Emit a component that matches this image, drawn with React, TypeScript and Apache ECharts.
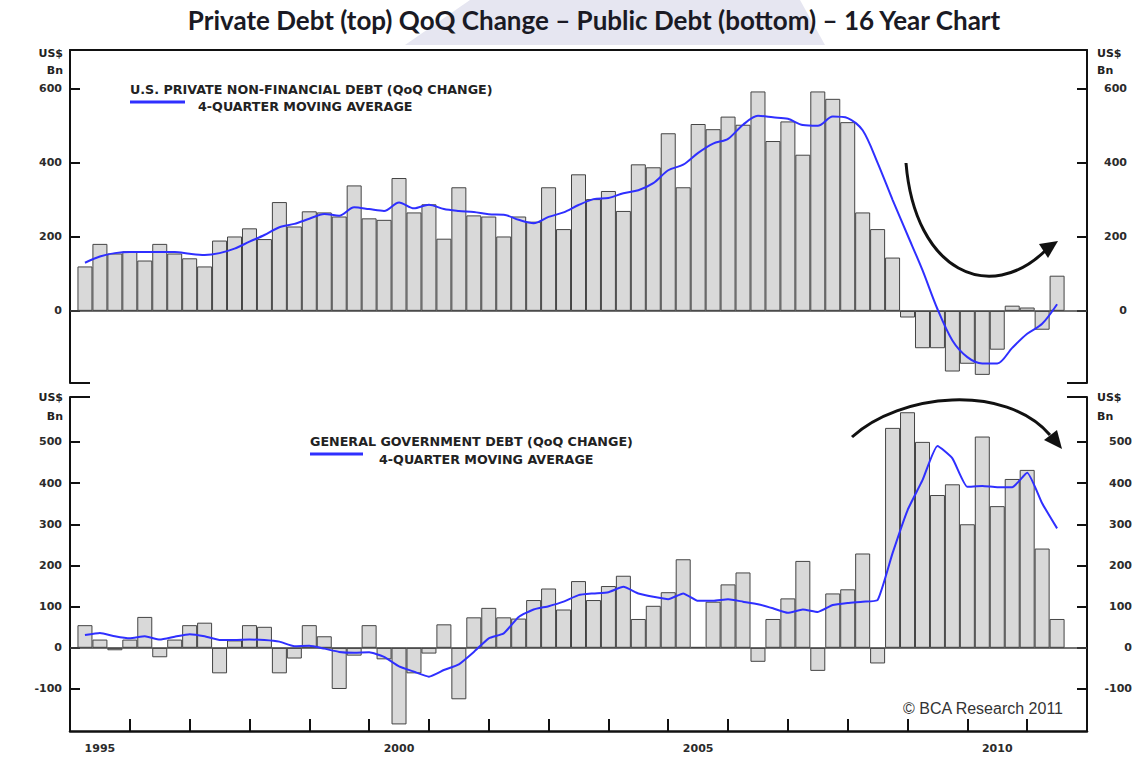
import React, { useEffect, useRef } from "react";
import * as echarts from "echarts";

// Quarter labels (bars are plotted at quarter end)
const quarterLabels: string[] = [];
for (let y = 1995; y <= 2011; y++) for (let q = 1; q <= 4; q++) quarterLabels.push(`${y}Q${q}`);
const quarters = quarterLabels.slice(0, 66);

const yearTickLabels = ["1995", "2000", "2005", "2010"];
const topTickValues = [0, 200, 400, 600];
const bottomTickValues = [-100, 0, 100, 200, 300, 400, 500];

// U.S. private non-financial debt, QoQ change (US$ bn)
const privateBars = [
  120, 181, 155, 161, 136, 181, 155, 142, 120, 190, 201, 223, 194, 294, 228, 269,
  266, 255, 339, 250, 246, 359, 266, 288, 195, 334, 258, 255, 201, 255, 241, 334,
  221, 369, 302, 324, 270, 396, 388, 480, 334, 505, 491, 525, 503, 593, 459, 512,
  422, 593, 573, 510, 266, 221, 144, -18, -101, -101, -164, -143, -173, -105, 14, 9,
  -51, 95,
];
// 4-quarter moving average
const privateMA = [
  130, 147, 156, 159, 159, 159, 159, 154, 151, 156, 168, 187, 205, 226, 235, 249,
  262, 257, 280, 275, 270, 293, 277, 287, 275, 270, 267, 261, 260, 246, 237, 254,
  266, 286, 302, 305, 318, 326, 345, 380, 395, 427, 452, 465, 503, 527, 523, 519,
  502, 500, 525, 521, 488, 400, 300, 205, 110, 5, -80, -125, -142, -142, -100, -62,
  -35, 18,
];
// General government debt, QoQ change (US$ bn)
const publicBars = [
  55, 20, -6, 20, 75, -23, 20, 55, 61, -62, 18, 55, 51, -62, -26, 55,
  28, -100, -19, 55, -28, -186, -62, -14, 57, -125, 74, 97, 74, 71, 116, 144,
  93, 162, 116, 150, 175, 70, 102, 135, 215, 2, 112, 154, 183, -34, 70, 120,
  211, -56, 132, 142, 229, -38, 534, 572, 500, 371, 397, 300, 513, 344, 410, 432,
  241, 70,
];
const publicMA = [
  31, 36, 28, 23, 28, 20, 27, 33, 28, 19, 19, 20, 19, 15, 4, 5,
  -2, -10, -12, -11, -22, -45, -58, -70, -54, -40, -10, 23, 35, 75, 93, 101,
  112, 128, 132, 135, 148, 132, 124, 118, 132, 114, 114, 118, 112, 106, 96, 85,
  93, 87, 104, 109, 112, 116, 230, 334, 407, 490, 460, 391, 393, 390, 390, 425,
  351, 290,
];

const qx = (label: string) => {
  const y = parseInt(label.slice(0, 4), 10);
  const q = parseInt(label.slice(5), 10);
  return y + q / 4;
};

const LABEL_FONT = "DejaVu Sans";
const BAR_STYLE = { color: "#d9d9d9", borderColor: "#444", borderWidth: 1 };
const LINE_COLOR = "#2f2fff";

export default function App() {
  const ref = useRef<HTMLDivElement>(null);
  useEffect(() => {
    document.body.style.margin = "0";
    const chart = echarts.init(ref.current!, undefined, { renderer: "svg" });
    const xs = quarters.map(qx);
    const pair = (arr: number[]) => arr.map((v, i) => [xs[i], v]);
    const yearLabelPos = yearTickLabels.map((y) => parseInt(y, 10) + 0.5);
    const yearTicks: number[] = [];
    for (let y = 1996; y <= 2011; y++) yearTicks.push(y);

    const axisLabelStyle = {
      fontFamily: LABEL_FONT,
      fontWeight: "bold" as const,
      fontSize: 11,
      color: "#2b2b2b",
    };
    const zeroLine = {
      silent: true,
      symbol: "none",
      label: { show: false },
      lineStyle: { color: "#444", width: 1.5, type: "solid" },
      data: [{ yAxis: 0 }],
    };
    const yAxisBase = (grid: number, pos: "left" | "right", min: number, max: number, ticks: number[], margin: number) => ({
      type: "value",
      gridIndex: grid,
      position: pos,
      min,
      max,
      splitLine: { show: false },
      axisLine: { show: true, onZero: false, lineStyle: { color: "#111", width: 2 } },
      axisTick: { show: true, inside: true, length: 10, customValues: ticks, lineStyle: { color: "#111", width: 2 } },
      axisLabel: {
        show: true,
        customValues: ticks,
        margin,
        align: "right",
        ...axisLabelStyle,
      },
    });

    const text = (x: number, y: number, t: string, extra: any = {}) => ({
      type: "text",
      x,
      y,
      silent: true,
      style: {
        text: t,
        fontFamily: LABEL_FONT,
        fontWeight: "bold",
        fontSize: 12.7,
        fill: "#222",
        textVerticalAlign: "middle",
        ...extra,
      },
    });
    const seg = (x1: number, y1: number, x2: number, y2: number, color = "#111", w = 2) => ({
      type: "line",
      silent: true,
      shape: { x1, y1, x2, y2 },
      style: { stroke: color, lineWidth: w },
    });

    chart.setOption({
      animation: false,
      backgroundColor: "#fff",
      grid: [
        { left: 70, right: 56, top: 50, height: 333, outerBoundsMode: "none" },
        { left: 70, right: 56, top: 397, height: 334, outerBoundsMode: "none" },
      ],
      xAxis: [
        {
          type: "value", gridIndex: 0, min: 1995, max: 2012,
          axisLine: { show: false }, axisTick: { show: false }, axisLabel: { show: false }, splitLine: { show: false },
        },
        {
          type: "value", gridIndex: 0, position: "top", min: 1995, max: 2012,
          axisLine: { show: true, onZero: false, lineStyle: { color: "#111", width: 2 } },
          axisTick: { show: false }, axisLabel: { show: false }, splitLine: { show: false },
        },
        {
          type: "value", gridIndex: 1, position: "bottom", min: 1995, max: 2012,
          splitLine: { show: false },
          axisLine: { show: true, onZero: false, lineStyle: { color: "#111", width: 2.5 } },
          axisTick: { show: true, inside: true, length: 12, customValues: yearTicks, lineStyle: { color: "#111", width: 2 } },
          axisLabel: {
            show: true,
            customValues: yearLabelPos,
            formatter: (v: number) => String(Math.floor(v)),
            margin: 12,
            ...axisLabelStyle,
          },
        },
      ],
      yAxis: [
        yAxisBase(0, "left", -195, 705, topTickValues, 8),
        yAxisBase(0, "right", -195, 705, topTickValues, 40),
        yAxisBase(1, "left", -202, 609, bottomTickValues, 8),
        yAxisBase(1, "right", -202, 609, bottomTickValues, 45),
      ],
      series: [
        {
          name: "U.S. Private Non-Financial Debt (QoQ change)",
          type: "bar", xAxisIndex: 0, yAxisIndex: 0, barWidth: 15,
          data: pair(privateBars), itemStyle: BAR_STYLE, markLine: zeroLine,
        },
        {
          name: "4-Quarter Moving Average (private)",
          type: "line", xAxisIndex: 0, yAxisIndex: 0, smooth: 0.3, symbol: "none",
          data: pair(privateMA), lineStyle: { color: LINE_COLOR, width: 2 }, z: 5,
        },
        {
          name: "General Government Debt (QoQ change)",
          type: "bar", xAxisIndex: 2, yAxisIndex: 2, barWidth: 15,
          data: pair(publicBars), itemStyle: BAR_STYLE, markLine: zeroLine,
        },
        {
          name: "4-Quarter Moving Average (public)",
          type: "line", xAxisIndex: 2, yAxisIndex: 2, smooth: 0.15, symbol: "none",
          data: pair(publicMA), lineStyle: { color: LINE_COLOR, width: 2 }, z: 5,
        },
      ],
      graphic: [
        {
          type: "polygon", silent: true, z: -10,
          shape: { points: [[470, 0], [800, 0], [825, 45], [405, 45]] },
          style: { fill: "#e6e6f1" },
        },
        {
          type: "text", x: 594, y: 20, silent: true,
          style: {
            text: "Private Debt (top) QoQ Change \u2013 Public Debt (bottom) \u2013 16 Year Chart",
            fontFamily: "Lato", fontWeight: "bold", fontSize: 26, fill: "#1a1a24",
            textAlign: "center", textVerticalAlign: "middle",
          },
        },
        // axis unit labels
        text(63, 53, "US$", { fontSize: 11, textAlign: "right" }),
        text(63, 70, "Bn", { fontSize: 11, textAlign: "right" }),
        text(1097, 53, "US$", { fontSize: 11 }),
        text(1097, 70, "Bn", { fontSize: 11 }),
        text(63, 397, "US$", { fontSize: 11, textAlign: "right" }),
        text(63, 416, "Bn", { fontSize: 11, textAlign: "right" }),
        text(1097, 397, "US$", { fontSize: 11 }),
        text(1097, 416, "Bn", { fontSize: 11 }),
        // axis end stubs
        seg(70, 383, 90, 383),
        seg(1067, 383, 1087, 383),
        seg(70, 397, 90, 397),
        seg(1067, 397, 1087, 397),
        // legends
        text(130, 89, "U.S. PRIVATE NON-FINANCIAL DEBT (QoQ CHANGE)"),
        seg(130, 102, 185, 102, LINE_COLOR, 3),
        text(198, 106, "4-QUARTER MOVING AVERAGE"),
        text(310, 441, "GENERAL GOVERNMENT DEBT (QoQ CHANGE)"),
        seg(310, 454, 363, 454, LINE_COLOR, 3),
        text(379, 459, "4-QUARTER MOVING AVERAGE"),
        // arrows
        {
          type: "bezierCurve", silent: true,
          shape: { x1: 906, y1: 163, cpx1: 915, cpy1: 272, cpx2: 990, cpy2: 305, x2: 1046, y2: 250 },
          style: { stroke: "#111", lineWidth: 3, fill: "none" },
        },
        {
          type: "polygon", silent: true,
          shape: { points: [[1058, 241], [1039, 244], [1048, 258]] },
          style: { fill: "#111" },
        },
        {
          type: "bezierCurve", silent: true,
          shape: { x1: 852, y1: 437, cpx1: 900, cpy1: 393, cpx2: 1005, cpy2: 383, x2: 1050, y2: 435 },
          style: { stroke: "#111", lineWidth: 3, fill: "none" },
        },
        {
          type: "polygon", silent: true,
          shape: { points: [[1062, 449], [1057, 430], [1044, 440]] },
          style: { fill: "#111" },
        },
        {
          type: "text", x: 1063, y: 708, silent: true,
          style: {
            text: "\u00a9 BCA Research 2011",
            fontFamily: "Liberation Sans", fontSize: 16, fill: "#333",
            textAlign: "right", textVerticalAlign: "middle",
          },
        },
      ],
    });
    return () => chart.dispose();
  }, []);
  return <div ref={ref} style={{ width: 1143, height: 759 }} />;
}
